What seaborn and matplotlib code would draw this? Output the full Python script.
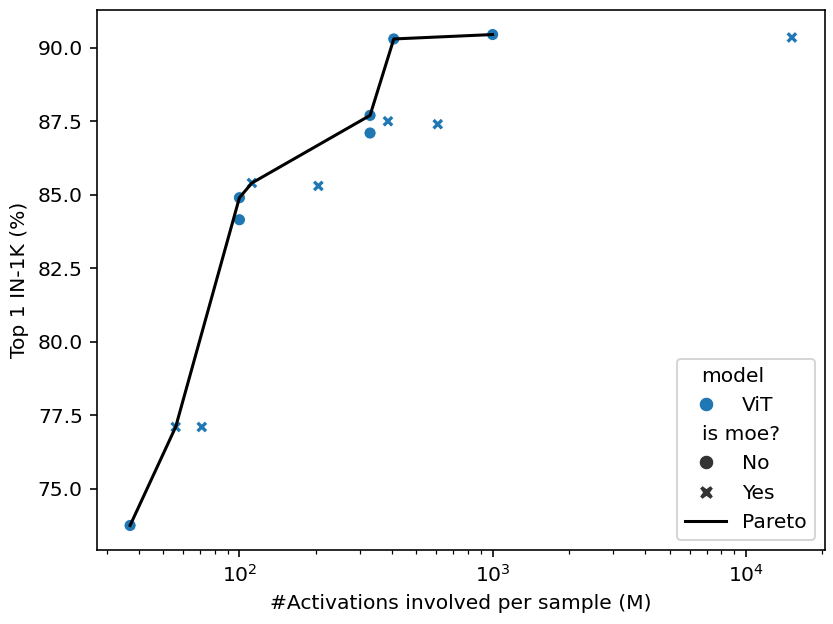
import matplotlib
matplotlib.use("Agg")
import matplotlib.pyplot as plt
from matplotlib.offsetbox import HPacker, DrawingArea, TextArea
import seaborn as sns
import pandas as pd

activations = [37, 100, 100, 328, 328, 407, 1000,
               56, 71, 112, 205, 386, 607, 15200]
top1 = [73.75, 84.9, 84.15, 87.7, 87.1, 90.3, 90.45,
        77.1, 77.1, 85.4, 85.3, 87.5, 87.4, 90.35]
is_moe = ["No"] * 7 + ["Yes"] * 7
model = ["ViT"] * 14

pareto_x = [37, 56, 100, 112, 328, 407, 1000]
pareto_y = [73.75, 77.1, 84.9, 85.4, 87.7, 90.3, 90.45]

df = pd.DataFrame({"#Activations involved per sample (M)": activations,
                   "Top 1 IN-1K (%)": top1,
                   "is moe?": is_moe, "model": model})
pdf = pd.DataFrame({"x": pareto_x, "y": pareto_y})

DPI = 146
W, H = 833, 624
fig, ax = plt.subplots(figsize=(W / DPI, H / DPI), dpi=DPI)
fig.subplots_adjust(left=97 / W, right=825 / W, top=1 - 10 / H, bottom=1 - 550 / H)
sns.scatterplot(data=df, x="#Activations involved per sample (M)", y="Top 1 IN-1K (%)",
                hue="model", style="is moe?", style_order=["No", "Yes"], ax=ax)
sns.lineplot(data=pdf, x="x", y="y", color="black", label="Pareto", ax=ax,
             sort=False)
ax.set_xscale("log")
ax.set_xlabel("#Activations involved per sample (M)")
ax.set_ylabel("Top 1 IN-1K (%)")
leg = ax.legend(loc="lower right", markerscale=1.2)

subtitles = {"model", "is moe?"}
for hp in leg.findobj(HPacker):
    ch = hp.get_children()
    if len(ch) == 2 and isinstance(ch[0], DrawingArea) and isinstance(ch[1], TextArea):
        if ch[1].get_text() in subtitles:
            ch[0].set_width(0)

fig.savefig("out.png", dpi=DPI)
